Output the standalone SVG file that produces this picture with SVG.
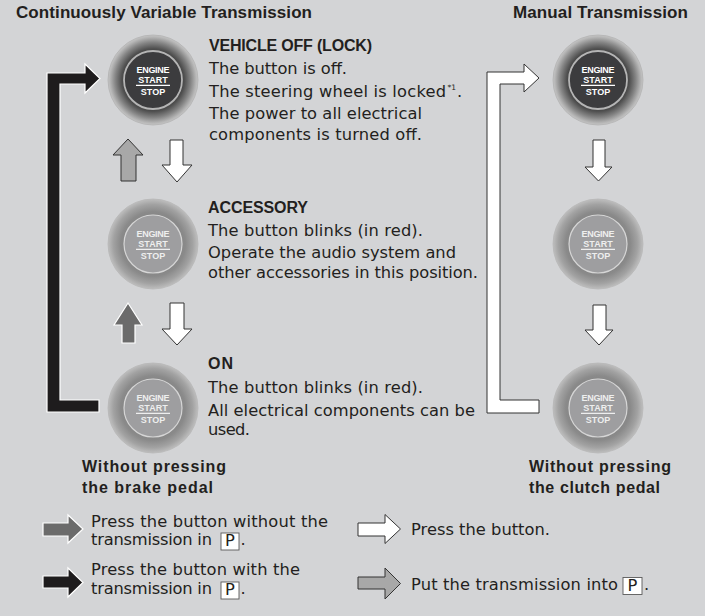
<svg xmlns="http://www.w3.org/2000/svg" width="705" height="616" viewBox="0 0 705 616">
<defs>
<radialGradient id="ringDark" cx="50%" cy="50%" r="50%">
<stop offset="0.6" stop-color="#3a3a3a"/>
<stop offset="0.7" stop-color="#505050"/>
<stop offset="0.84" stop-color="#858585"/>
<stop offset="0.95" stop-color="#b4b4b4"/>
<stop offset="1" stop-color="#c6c6c6"/>
</radialGradient>
<radialGradient id="ringLight" cx="50%" cy="50%" r="50%">
<stop offset="0.6" stop-color="#858585"/>
<stop offset="0.72" stop-color="#8a8a8a"/>
<stop offset="0.88" stop-color="#a2a2a2"/>
<stop offset="1" stop-color="#bebebe"/>
</radialGradient>
<style>
.bg{fill:#d3d4d6}
.ring-d{fill:url(#ringDark);stroke:#b3b3b3;stroke-width:0.8}
.ring-l{fill:url(#ringLight);stroke:#b8b8b8;stroke-width:0.8}
.core-d{fill:#3c3c3e;stroke:#b5b5b5;stroke-width:1.8}
.core-l{fill:#9e9ea0;stroke:#d6d6d6;stroke-width:1.2}
.bt{font-family:"Liberation Sans",Arial,sans-serif;font-weight:bold;font-size:9px;text-anchor:middle}
.bt-d{fill:#ffffff}
.bt-l{fill:#eeeeee}
.bl-d{stroke:#ffffff;stroke-width:1.3}
.bl-l{stroke:#eeeeee;stroke-width:1.3}
.t{font-family:"DejaVu Sans","Liberation Sans",sans-serif;font-size:16.3px;fill:#231f20}
.h{font-family:"Liberation Sans",Arial,sans-serif;font-weight:bold;font-size:16px;fill:#231f20}
.title{font-family:"Liberation Sans",Arial,sans-serif;font-weight:bold;font-size:17px;fill:#231f20}
.sup{font-family:"DejaVu Sans","Liberation Sans",sans-serif;font-size:7.5px;fill:#231f20}
.a-white{fill:#ffffff;stroke:#333333;stroke-width:1}
.a-lgray{fill:#a8a8a8;stroke:#333333;stroke-width:1}
.a-dgray{fill:#6b6b6b;stroke:#ffffff;stroke-width:1.2}
.a-black{fill:#1e1c1d;stroke:#ffffff;stroke-width:1.2}
.pbox{fill:#ffffff;stroke:#5a5a5a;stroke-width:0.9}
</style>
</defs>
<rect class="bg" x="0" y="0" width="705" height="616"/>

<g id="titles">
<text class="title" x="16" y="18" textLength="296">Continuously Variable Transmission</text>
<text class="title" x="513" y="18" textLength="175">Manual Transmission</text>
</g>

<g id="connectors">
<path class="a-black" d="M99,400 L60,400 L60,84 L85,84 L85,93 L100,78.5 L85,64 L85,73 L47,73 L47,412 L99,412 Z"/>
<path class="a-white" d="M539,400 L500,400 L500,84 L524,84 L524,92 L539,78 L524,64 L524,72 L487,72 L487,413 L539,413 Z"/>
<path class="a-lgray" d="M128,139 L143,155 L136,155 L136,181 L121,181 L121,155 L113,155 Z"/>
<path class="a-white" d="M170,140 L183,140 L183,165 L192,165 L177,182 L162,165 L170,165 Z"/>
<path class="a-dgray" d="M128,303 L142,325 L135,325 L135,343 L122,343 L122,325 L114,325 Z"/>
<path class="a-white" d="M170,303 L184,303 L184,329 L192,329 L177,345 L162,329 L170,329 Z"/>
<path class="a-white" d="M593,140 L605,140 L605,167 L612,167 L598.5,181 L585,167 L593,167 Z"/>
<path class="a-white" d="M593,305 L606,305 L606,330 L613,330 L599,345 L585,330 L593,330 Z"/>
</g>

<g id="cvt-off">
<circle class="ring-d" cx="153" cy="80" r="45"/>
<circle class="core-d" cx="153" cy="80" r="29"/>
<text class="bt bt-d" x="153" y="72.7" textLength="33">ENGINE</text>
<text class="bt bt-d" x="153" y="82.7">START</text>
<line class="bl-d" x1="136" y1="85.3" x2="170" y2="85.3"/>
<text class="bt bt-d" x="153" y="95">STOP</text>
</g>
<g id="cvt-acc">
<circle class="ring-l" cx="153" cy="244" r="45"/>
<circle class="core-l" cx="153" cy="244" r="29"/>
<text class="bt bt-l" x="153" y="236.7" textLength="33">ENGINE</text>
<text class="bt bt-l" x="153" y="246.7">START</text>
<line class="bl-l" x1="136" y1="249.3" x2="170" y2="249.3"/>
<text class="bt bt-l" x="153" y="259">STOP</text>
</g>
<g id="cvt-on">
<circle class="ring-l" cx="153" cy="408" r="45"/>
<circle class="core-l" cx="153" cy="408" r="29"/>
<text class="bt bt-l" x="153" y="400.7" textLength="33">ENGINE</text>
<text class="bt bt-l" x="153" y="410.7">START</text>
<line class="bl-l" x1="136" y1="413.3" x2="170" y2="413.3"/>
<text class="bt bt-l" x="153" y="423">STOP</text>
</g>
<g id="mt-off">
<circle class="ring-d" cx="598" cy="80" r="45"/>
<circle class="core-d" cx="598" cy="80" r="29"/>
<text class="bt bt-d" x="598" y="72.7" textLength="33">ENGINE</text>
<text class="bt bt-d" x="598" y="82.7">START</text>
<line class="bl-d" x1="581" y1="85.3" x2="615" y2="85.3"/>
<text class="bt bt-d" x="598" y="95">STOP</text>
</g>
<g id="mt-acc">
<circle class="ring-l" cx="598" cy="244" r="45"/>
<circle class="core-l" cx="598" cy="244" r="29"/>
<text class="bt bt-l" x="598" y="236.7" textLength="33">ENGINE</text>
<text class="bt bt-l" x="598" y="246.7">START</text>
<line class="bl-l" x1="581" y1="249.3" x2="615" y2="249.3"/>
<text class="bt bt-l" x="598" y="259">STOP</text>
</g>
<g id="mt-on">
<circle class="ring-l" cx="598" cy="408" r="45"/>
<circle class="core-l" cx="598" cy="408" r="29"/>
<text class="bt bt-l" x="598" y="400.7" textLength="33">ENGINE</text>
<text class="bt bt-l" x="598" y="410.7">START</text>
<line class="bl-l" x1="581" y1="413.3" x2="615" y2="413.3"/>
<text class="bt bt-l" x="598" y="423">STOP</text>
</g>

<g id="desc-off">
<text class="h" x="209" y="51" textLength="163">VEHICLE OFF (LOCK)</text>
<text class="t" x="209" y="74" textLength="138">The button is off.</text>
<text class="t" x="209" y="97" textLength="237">The steering wheel is locked</text>
<text class="sup" x="447.5" y="90">*1</text>
<text class="t" x="457" y="97">.</text>
<text class="t" x="209" y="119" textLength="213">The power to all electrical</text>
<text class="t" x="209" y="140" textLength="213">components is turned off.</text>
</g>
<g id="desc-acc">
<text class="h" x="208" y="213" textLength="100">ACCESSORY</text>
<text class="t" x="208" y="236" textLength="215">The button blinks (in red).</text>
<text class="t" x="208" y="258" textLength="248">Operate the audio system and</text>
<text class="t" x="208" y="278" textLength="270">other accessories in this position.</text>
</g>
<g id="desc-on">
<text class="h" x="208" y="369" textLength="25">ON</text>
<text class="t" x="208" y="393" textLength="215">The button blinks (in red).</text>
<text class="t" x="208" y="416" textLength="267">All electrical components can be</text>
<text class="t" x="208" y="435" textLength="42">used.</text>
</g>

<g id="label-cvt">
<text class="h" x="82" y="472" textLength="144">Without pressing</text>
<text class="h" x="82" y="493" textLength="131">the brake pedal</text>
</g>
<g id="label-mt">
<text class="h" x="529" y="472" textLength="142">Without pressing</text>
<text class="h" x="529" y="493" textLength="131">the clutch pedal</text>
</g>

<g id="legend">
<path class="a-dgray" d="M43,523 L68,523 L68,515 L83,529 L68,543 L68,536 L43,536 Z"/>
<text class="t" x="91" y="527" textLength="237">Press the button without the</text>
<text class="t" x="91" y="545" textLength="121">transmission in</text>
<rect class="pbox" x="221" y="533" width="18" height="17"/>
<text class="t" x="230" y="546" text-anchor="middle">P</text>
<text class="t" x="240.5" y="545">.</text>

<path class="a-black" d="M43,576 L68,576 L68,568 L83,582.5 L68,597 L68,588 L43,588 Z"/>
<text class="t" x="91" y="575" textLength="209">Press the button with the</text>
<text class="t" x="91" y="594" textLength="121">transmission in</text>
<rect class="pbox" x="221" y="582" width="18" height="17"/>
<text class="t" x="230" y="595" text-anchor="middle">P</text>
<text class="t" x="240.5" y="594">.</text>

<path class="a-white" d="M358,523 L385,523 L385,514.5 L400.5,529 L385,543.5 L385,536 L358,536 Z"/>
<text class="t" x="411" y="535" textLength="139">Press the button.</text>

<path class="a-lgray" d="M358,577 L385,577 L385,568 L400.5,583.5 L385,599 L385,589 L358,589 Z"/>
<text class="t" x="411" y="590" textLength="207">Put the transmission into</text>
<rect class="pbox" x="623" y="577.5" width="19" height="17"/>
<text class="t" x="632.5" y="590.5" text-anchor="middle">P</text>
<text class="t" x="644" y="590">.</text>
</g>
</svg>
